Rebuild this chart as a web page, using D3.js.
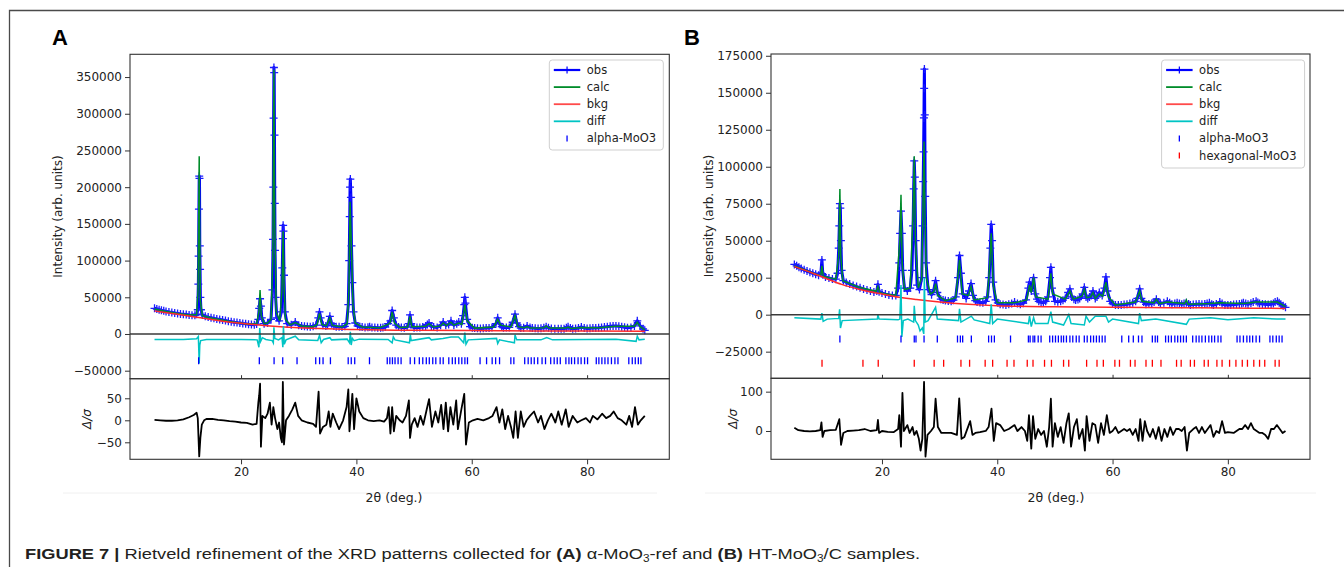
<!DOCTYPE html>
<html>
<head>
<meta charset="utf-8">
<script src="https://cdnjs.cloudflare.com/ajax/libs/d3/7.8.5/d3.min.js"></script>
<style>
body{margin:0;background:#fff;}
svg text{font-family:"DejaVu Sans",sans-serif;fill:#222;}
</style>
</head>
<body>
<div id="fig"></div>
<script>
//2theta axis
var xTicks = [20, 40, 60, 80];

//Panel A : alpha-MoO3-ref  (2theta deg, counts)
var yTicksA = [-50000, 0, 50000, 100000, 150000, 200000, 250000, 300000, 350000];
var resTicksA = [-50, 0, 50];
var obsA = [[5.0,35000],[5.4,34000],[5.8,33000],[6.2,32200],[6.6,31500],[7.0,30800],[7.5,30000],[8.0,29300],[8.5,28600],[9.0,28000],[9.5,27400],[10.0,27000],[10.5,26500],[11.0,26000],[11.5,25700],[12.0,25500],[12.3,27000],[12.5,33000],[12.6,68000],[12.65,106000],[12.7,170000],[12.75,215000],[12.8,212000],[12.85,120000],[12.9,88000],[12.95,50000],[13.05,33000],[13.3,26000],[13.8,24000],[14.3,23000],[14.8,22000],[15.3,21300],[15.8,20500],[16.3,19800],[16.8,19000],[17.3,18300],[17.8,17500],[18.3,16800],[18.8,16100],[19.3,15500],[19.8,14900],[20.3,14300],[20.8,13800],[21.3,13300],[21.8,12900],[22.3,12700],[22.7,13500],[23.0,20000],[23.15,35000],[23.3,48000],[23.45,38000],[23.6,22000],[24.0,14000],[24.6,15000],[25.2,20000],[25.45,60000],[25.55,129000],[25.6,200000],[25.65,294000],[25.7,363000],[25.75,356000],[25.8,271000],[25.85,178000],[25.9,114000],[26.0,50000],[26.2,22000],[26.6,18000],[27.0,30000],[27.15,90000],[27.25,130000],[27.3,148000],[27.35,140000],[27.45,80000],[27.6,30000],[28.0,14000],[28.7,12500],[29.4,16500],[30.0,12000],[30.5,11000],[31.0,10500],[31.5,10200],[32.0,10000],[32.5,10500],[33.0,12000],[33.4,22000],[33.6,30000],[33.8,22000],[34.2,12000],[34.7,11000],[35.0,12000],[35.4,24000],[35.7,14000],[36.1,11000],[36.5,10000],[37.0,9700],[37.5,9500],[38.0,10500],[38.3,14000],[38.6,40000],[38.75,100000],[38.85,160000],[38.9,200000],[38.95,211000],[39.05,186000],[39.15,120000],[39.3,70000],[39.5,30000],[39.8,15000],[40.2,11000],[40.6,10000],[41.0,9500],[41.5,9000],[42.0,9300],[42.3,10000],[42.7,9000],[43.2,8800],[43.7,8600],[44.2,8500],[44.6,8800],[45.0,9500],[45.5,14000],[45.9,18000],[46.2,32000],[46.5,22000],[46.9,12000],[47.3,9500],[47.8,9000],[48.3,8600],[48.8,9500],[49.1,14000],[49.3,26000],[49.5,14000],[50.0,8500],[50.5,8700],[51.0,9000],[51.5,9500],[52.0,11000],[52.3,13000],[52.6,15000],[53.0,11000],[53.4,9500],[54.0,9000],[54.6,12000],[55.05,16500],[55.5,12000],[56.0,13000],[56.4,18000],[56.9,12000],[57.4,14000],[57.75,16500],[58.2,14000],[58.5,25000],[58.7,40000],[58.8,50000],[58.9,42000],[59.2,20000],[59.7,10000],[60.1,8500],[60.5,8000],[61.0,7700],[61.5,7500],[62.0,7700],[62.5,8000],[63.0,8300],[63.5,9000],[64.2,14000],[64.5,22000],[64.8,14000],[65.2,10000],[65.5,8500],[66.0,8700],[66.5,9000],[67.1,16000],[67.5,27000],[67.8,15000],[68.2,10000],[68.5,8000],[69.0,8500],[69.6,11000],[70.1,8800],[70.5,8000],[71.0,7700],[71.5,7500],[72.0,7800],[72.5,8500],[72.9,10000],[73.3,8500],[73.8,7500],[74.4,7200],[75.0,7000],[75.5,7100],[76.0,7200],[76.4,8500],[76.7,10000],[77.1,8000],[77.5,7000],[78.0,7500],[78.5,8200],[79.0,9500],[79.5,8300],[80.0,7500],[80.5,7700],[81.0,8000],[81.5,8200],[82.0,8500],[82.5,9000],[83.0,9500],[83.5,10000],[84.0,10500],[84.5,10800],[85.0,11000],[85.5,10500],[86.0,10000],[86.5,9200],[87.0,8500],[87.6,9000],[88.2,11000],[88.7,18000],[89.2,11000],[89.7,7000],[90.0,5000]];
var calcA = [[5,34000],[7,30500],[9,28000],[11,26000],[12.3,26500],[12.55,60000],[12.7,200000],[12.75,242000],[12.8,170000],[12.95,45000],[13.3,25000],[15,21500],[18,17000],[21,13500],[22.7,13500],[23.1,30000],[23.3,60000],[23.5,25000],[24,14000],[24.6,15000],[25.2,20000],[25.5,100000],[25.7,360000],[25.85,150000],[26.1,30000],[26.7,18000],[27.1,60000],[27.3,140000],[27.45,70000],[27.7,20000],[28.5,12500],[29.4,15500],[30.5,11000],[32.5,10000],[33.2,13000],[33.6,28000],[34.0,13000],[34.8,11000],[35.4,22000],[35.8,12000],[37.5,9500],[38.4,14000],[38.7,60000],[38.9,180000],[39.1,130000],[39.4,40000],[39.8,15000],[41,9500],[44,8500],[45.5,13000],[45.9,16000],[46.2,30000],[46.6,15000],[47.5,9000],[48.9,9500],[49.3,24000],[49.6,10000],[52.0,10500],[52.6,14000],[53.3,9500],[54.6,11000],[55.05,15000],[55.6,11500],[56.4,16000],[56.9,12000],[57.75,15000],[58.3,13000],[58.8,40000],[59.2,18000],[60.5,8000],[63.8,9500],[64.5,20000],[65,12000],[66.8,9500],[67.5,25000],[68,10000],[69.1,8500],[69.6,10000],[70.2,8000],[72.5,8500],[72.9,11000],[73.4,8000],[76.3,8000],[76.7,9500],[77.2,7500],[79,9000],[82,8500],[85,10500],[88.2,10500],[88.7,16000],[89.2,10000],[90,5500]];
var bkgA = [[5,31500],[8,28000],[11,24500],[13,22000],[16,18500],[20,14500],[25,11000],[30,8500],[35,7000],[40,6000],[50,5000],[60,4600],[70,4200],[80,4000],[90,3800]];
var diffA = [[5,-7500],[10,-7500],[12.3,-6500],[12.6,-3500],[12.75,-40000],[12.85,-15000],[13.0,-9000],[14,-7500],[20,-7500],[22.8,-8000],[23.1,-18000],[23.25,8000],[23.4,-10000],[23.7,-5000],[24.3,-7500],[25.4,-9000],[25.6,-12000],[25.7,9000],[25.85,-6000],[26.5,-8000],[27.1,-5000],[27.25,-18000],[27.35,11000],[27.5,-14000],[27.8,-8000],[29.4,-3000],[30,-8000],[33.3,-9000],[33.6,-2000],[33.9,-12000],[34.3,-7500],[35.4,-5000],[35.7,-8000],[38.4,-7000],[38.8,-12000],[38.95,3000],[39.1,-15000],[39.3,-6000],[39.6,-9000],[40.5,-7000],[45.5,-7500],[46.2,-12000],[46.4,-4000],[46.7,-8000],[49.2,-12000],[49.35,-1000],[49.5,-9000],[52.6,-5000],[53,-8000],[55,-6000],[56.4,-4000],[57.7,-4000],[58.6,-12000],[58.8,2000],[59.0,-14000],[59.4,-8000],[64.3,-6000],[64.5,-13000],[64.8,-8000],[67.4,-12000],[67.5,-1000],[67.8,-8000],[72,-8000],[73,-5000],[74,-8000],[80,-7500],[85,-7000],[88.5,-10000],[88.7,-3000],[89,-8000],[90,-7000]];
var resA = [[5,1],[6,0],[7,-1],[8,-1],[9,0],[10,2],[11,7],[11.8,12],[12.3,17],[12.5,5],[12.75,-82],[12.95,-40],[13.2,-10],[13.6,0],[14,3],[15,3],[16,1],[17,0],[18,-2],[19,-3],[20,-5],[21,-6],[22,-10],[22.7,-8],[23.0,40],[23.15,57],[23.3,83],[23.45,-60],[23.7,10],[24.2,5],[24.6,15],[25.0,40],[25.3,-10],[25.6,30],[25.9,5],[26.3,-20],[26.6,-5],[26.9,-40],[27.1,-50],[27.25,87],[27.45,-55],[27.8,0],[28.3,10],[28.9,25],[29.4,40],[29.9,10],[30.5,0],[31.5,-5],[32.5,-8],[33.0,-15],[33.3,40],[33.45,65],[33.7,-30],[34.2,-15],[34.8,-10],[35.2,20],[35.5,-15],[35.9,15],[36.5,-5],[37.0,-20],[37.7,0],[38.3,30],[38.6,70],[38.8,-25],[39.0,10],[39.3,60],[39.6,-20],[40.0,50],[40.5,20],[41.2,5],[42,0],[43,-2],[44,0],[44.8,-3],[45.3,5],[45.6,30],[45.9,-30],[46.2,30],[46.5,-25],[46.9,10],[47.5,0],[48,-5],[48.6,10],[49.1,45],[49.3,-40],[49.6,-10],[50.1,5],[50.6,-15],[51.1,10],[51.6,-10],[52.2,25],[52.6,48],[53.1,-15],[53.7,20],[54.2,-5],[54.7,35],[55.1,-20],[55.5,40],[55.9,-25],[56.3,30],[56.8,-10],[57.3,45],[57.6,-20],[58.2,25],[58.7,60],[59.0,-55],[59.5,-5],[60.2,0],[61,3],[62,0],[63,5],[63.6,10],[64.3,30],[64.8,-5],[65.3,25],[65.8,-20],[66.3,10],[66.8,-15],[67.2,-40],[67.6,20],[68.0,-40],[68.5,20],[69.0,-15],[69.5,0],[70.1,10],[70.8,20],[71.5,-5],[72.0,10],[72.6,-20],[73.2,0],[73.8,15],[74.5,-5],[75.0,20],[75.6,-10],[76.3,25],[76.8,-15],[77.5,10],[78.3,-5],[79.0,0],[79.8,5],[80.5,-5],[81.0,10],[81.8,2],[82.6,15],[83.3,5],[84.0,10],[84.6,20],[85.3,5],[86.0,0],[86.8,-10],[87.3,10],[87.8,-15],[88.3,30],[88.8,-10],[89.3,0],[90,10]];
var alphaTicksA = [12.65,23.17,25.73,27.23,29.71,32.95,33.62,34.22,35.5,38.58,39.11,39.71,42.27,45.35,45.8,46.25,46.7,47.23,47.75,49.33,50.09,50.91,51.51,52.12,52.64,53.24,53.77,54.52,55.05,56.02,56.63,57.15,57.75,58.28,58.81,59.26,61.44,62.57,63.54,64.14,64.82,66.78,67.3,69.18,69.78,70.31,70.84,71.44,72.19,72.79,73.69,74.29,74.82,75.35,76.32,76.85,77.3,77.83,78.43,78.96,79.56,80.08,81.59,82.04,82.56,83.09,83.62,84.22,84.82,85.35,87.23,87.83,88.35,88.88,89.33];

//Panel B : HT-MoO3/C
var yTicksB = [-25000, 0, 25000, 50000, 75000, 100000, 125000, 150000, 175000];
var resTicksB = [0, 100];
var obsB = [[4.8,34000],[5.2,33000],[5.6,32000],[6.0,31200],[6.5,30300],[7.0,29500],[7.5,28700],[8.0,28000],[8.5,27300],[9.0,26700],[9.4,28000],[9.58,37000],[9.75,27000],[10.2,25500],[10.8,24800],[11.4,24200],[12.0,24000],[12.3,28000],[12.5,45000],[12.6,60000],[12.7,75000],[12.78,72000],[12.88,50000],[13.0,30000],[13.3,23000],[13.8,21800],[14.4,20800],[15.0,19800],[15.6,19000],[16.2,18200],[16.8,17400],[17.4,16700],[18.0,16000],[18.6,15300],[19.1,16000],[19.3,20500],[19.5,15500],[20.0,14600],[20.6,13900],[21.2,13300],[21.8,12900],[22.4,13000],[22.8,18000],[23.0,35000],[23.15,55000],[23.3,70000],[23.45,55000],[23.6,30000],[23.9,18000],[24.4,16000],[24.9,18000],[25.2,30000],[25.4,60000],[25.5,85000],[25.6,104000],[25.7,93000],[25.85,50000],[26.1,20000],[26.5,17000],[26.9,25000],[27.05,60000],[27.15,90000],[27.22,110000],[27.28,133000],[27.32,153000],[27.36,166000],[27.42,135000],[27.5,80000],[27.65,35000],[28.0,17000],[28.6,13500],[29.0,17000],[29.3,23000],[29.6,15000],[30.2,10500],[30.6,10000],[31.0,9600],[31.5,9300],[32.0,9000],[32.4,9800],[32.8,12000],[33.2,25000],[33.45,40000],[33.7,28000],[34.0,14000],[34.6,11000],[35.1,16000],[35.45,21000],[35.8,13000],[36.2,9500],[36.5,8600],[37.0,8300],[37.5,8000],[38.0,9000],[38.3,12000],[38.6,25000],[38.8,45000],[38.95,61000],[39.1,50000],[39.3,22000],[39.7,10000],[40.1,8000],[40.5,7000],[41.0,6800],[41.5,6500],[42.0,7000],[42.5,7500],[43.0,8500],[43.5,7500],[44.0,7000],[44.5,7800],[45.0,10000],[45.4,18000],[45.6,22000],[45.9,16000],[46.3,25000],[46.6,14000],[46.9,10500],[47.2,9000],[47.6,8500],[48.0,8000],[48.4,9000],[48.8,12000],[49.15,25000],[49.3,32000],[49.5,18000],[50.0,9000],[50.5,8800],[51.0,9000],[51.4,9800],[51.8,11000],[52.3,15000],[52.6,17500],[52.9,12000],[53.3,10500],[53.6,10000],[54.0,10200],[54.3,11000],[54.8,14000],[55.1,18500],[55.4,12000],[55.7,11000],[56.0,12000],[56.3,13000],[56.6,16000],[57.0,11000],[57.3,12000],[57.7,15000],[58.2,13000],[58.6,18000],[58.85,25500],[59.1,16000],[59.6,9000],[60.0,7500],[60.5,6500],[61.0,6500],[61.5,6500],[62.0,6800],[62.5,7000],[63.0,7500],[63.5,8000],[64.0,9000],[64.3,11000],[64.7,17500],[65.0,11000],[65.4,8500],[65.8,7000],[66.3,7200],[66.8,7500],[67.2,8500],[67.6,10500],[68.0,8500],[68.3,7500],[68.9,8000],[69.5,9000],[69.9,8000],[70.3,7000],[70.8,7500],[71.2,8000],[71.6,7500],[72.0,7000],[72.4,7500],[72.8,8000],[73.2,7200],[73.5,6500],[74.0,6800],[74.5,7000],[75.0,7200],[75.5,7000],[76.0,7200],[76.4,7500],[76.8,8000],[77.2,7000],[77.5,6500],[78.0,7200],[78.6,8500],[79.0,7500],[79.5,6500],[80.0,6500],[80.5,6500],[81.0,6800],[81.5,7000],[82.0,7300],[82.4,7600],[82.7,8000],[83.1,7500],[83.5,7000],[84.0,7800],[84.4,8500],[84.9,9000],[85.2,8200],[85.5,7500],[86.0,7200],[86.5,7000],[87.0,6800],[87.5,7000],[87.9,7500],[88.2,8500],[88.6,9000],[88.9,8000],[89.2,7000],[89.6,6000],[90.0,5000]];
var calcB = [[4.8,33000],[9.0,26700],[9.4,27000],[9.58,33000],[9.8,26000],[12.0,24000],[12.5,40000],[12.7,85000],[12.85,40000],[13.2,23000],[16.0,18500],[19.0,15800],[19.3,19000],[19.6,15000],[20.0,14500],[22.4,13000],[23.1,50000],[23.3,81000],[23.5,35000],[23.9,17000],[24.9,18000],[25.4,70000],[25.6,107000],[25.8,50000],[26.3,18000],[26.9,25000],[27.1,70000],[27.3,117000],[27.45,70000],[27.7,25000],[28.4,14000],[29.0,15500],[29.3,21000],[29.7,13000],[31.0,9500],[32.8,11500],[33.45,37000],[33.9,14000],[35.0,13000],[35.45,19000],[36.0,10000],[38.3,11500],[38.7,35000],[38.95,55000],[39.3,20000],[40.0,8000],[43.0,8000],[45.1,10000],[45.6,20000],[45.9,15000],[46.3,25000],[46.7,12000],[48.8,10500],[49.3,28000],[49.6,14000],[51.8,10500],[52.6,16000],[53.2,10500],[54.7,12500],[55.1,17000],[55.5,11500],[56.2,12000],[56.6,15000],[57.0,11000],[57.7,14000],[58.3,12500],[58.85,22000],[59.3,12000],[60.5,6500],[64.0,8500],[64.7,16000],[65.1,9000],[67.2,8000],[67.6,10500],[68.1,7500],[69.5,8500],[72.5,7500],[72.8,10000],[73.1,7000],[76.8,7500],[78.6,8000],[82.7,7500],[84.9,8500],[88.6,8500],[90.0,5500]];
var bkgB = [[4.8,32500],[8,28000],[10,25000],[13,20500],[16,17200],[20,14000],[23,11800],[26,10200],[30,8500],[35,7000],[40,6000],[50,5300],[60,5000],[70,4700],[80,4500],[90,4200]];
var diffB = [[4.8,-2000],[9.4,-3000],[9.58,1000],[9.8,-4500],[10.5,-3000],[12.5,-2500],[12.65,3700],[12.8,-9000],[13.1,-4000],[19.2,-3000],[19.3,0],[19.5,-3000],[22.8,-3500],[23.1,-3000],[23.3,20000],[23.45,-15000],[23.7,-4000],[24.5,-3000],[25.5,-5000],[25.6,6000],[25.8,-4000],[26.3,-7000],[26.6,-11000],[27.0,-9000],[27.25,-13000],[27.35,25000],[27.5,-5000],[28,-4000],[29.3,5000],[29.6,-3000],[33.3,-4000],[33.45,4000],[33.7,-5000],[35.5,-1000],[36,-3500],[38.7,-6000],[38.95,7000],[39.2,-6000],[40,-3000],[45.4,-6000],[45.6,-1000],[45.9,-8000],[46.3,-2000],[46.6,-6000],[48.8,-6000],[49.3,2000],[49.6,-5000],[51.5,-7000],[52.4,0],[52.8,-6000],[55.1,-7000],[55.4,-1000],[56,-5000],[57,-1000],[58.85,-1000],[59.3,-5000],[60,-3000],[64.5,-6000],[64.7,1000],[65,-4000],[67.5,-3000],[72.8,-6500],[73.3,-3000],[77,-2000],[80,-3500],[84.5,-2000],[88.5,-3000],[90,-3000]];
var resB = [[4.8,8],[5.5,2],[6.5,0],[7.5,-1],[8.5,0],[9.3,2],[9.5,22],[9.7,-15],[10,0],[11,2],[12,3],[12.6,30],[12.9,-35],[13.3,-5],[14,0],[15,1],[16,2],[17,5],[18,0],[19.1,2],[19.3,28],[19.5,-5],[20,0],[21,-2],[22,-3],[22.8,5],[23.0,40],[23.3,-40],[23.55,97],[23.8,0],[24.4,15],[24.8,-5],[25.3,10],[25.6,-10],[26.0,0],[26.4,-20],[26.7,-50],[27.0,-20],[27.3,125],[27.55,-65],[27.9,-10],[28.5,0],[29.0,10],[29.3,82],[29.7,10],[30.3,-5],[31,-5],[32,-5],[33,-10],[33.4,83],[33.8,-20],[34.3,-15],[35.3,25],[35.7,-10],[36.2,-5],[37,-3],[38,0],[38.5,10],[39,57],[39.4,-25],[39.8,20],[40.5,15],[41.2,0],[42,5],[43,15],[43.5,0],[44.2,10],[44.8,0],[45.2,-25],[45.5,40],[45.9,-45],[46.2,38],[46.6,-20],[47.1,5],[47.6,-10],[48.1,0],[48.6,-40],[49.0,10],[49.3,82],[49.6,-40],[50.0,20],[50.5,-15],[51.0,10],[51.5,-30],[52.0,20],[52.4,45],[52.8,-40],[53.3,10],[53.8,30],[54.2,-20],[54.8,5],[55.2,-50],[55.5,38],[56.0,-25],[56.5,20],[57.0,15],[57.5,-30],[58.0,20],[58.5,-10],[59.0,40],[59.5,-5],[60.0,0],[60.5,10],[61.0,-5],[62.0,5],[62.5,0],[63.0,5],[63.5,-10],[64.0,5],[64.5,-25],[64.8,30],[65.2,-25],[65.6,25],[66.0,0],[66.5,-15],[67.0,5],[67.5,-20],[68.0,10],[68.5,-25],[69.0,5],[69.5,-15],[70.0,10],[70.5,-10],[71.0,5],[71.5,5],[72.0,0],[72.5,10],[72.9,-50],[73.3,-5],[74.0,5],[74.5,10],[75.0,-5],[75.5,10],[76.0,-5],[76.5,5],[77.0,15],[77.5,-15],[78.0,0],[78.5,-5],[79.0,25],[79.5,-5],[80.0,-3],[81.0,-5],[82.0,5],[82.5,5],[83.0,15],[83.5,5],[84.0,20],[84.5,5],[85.0,0],[85.5,-5],[86.0,-5],[86.5,-10],[87.0,-20],[87.5,5],[88.0,5],[88.5,15],[89.0,5],[89.5,-5],[90,0]];
var alphaTicksB = [12.7,23.3,25.6,25.9,27.3,29.6,33.1,33.6,34.0,35.5,38.5,39.0,39.5,42.3,45.4,45.7,46.2,46.5,47.1,47.6,49.1,49.6,50.1,50.6,51.1,51.5,52.0,52.6,53.1,53.7,54.2,55.1,55.6,56.2,56.7,57.2,57.7,58.2,58.7,61.6,62.8,63.6,64.5,65.1,66.9,67.4,67.8,69.2,69.7,70.2,70.8,71.3,71.8,72.3,72.8,73.9,74.5,75.0,75.5,76.1,76.7,77.2,77.7,78.3,78.8,81.6,82.1,82.7,83.3,83.8,84.3,84.9,85.5,87.3,87.8,88.4,88.9,89.4];
var hexTicksB = [9.6,16.7,19.35,25.6,29.05,30.7,33.7,35.2,37.9,39.2,41.7,42.9,45.2,46.2,48.2,49.4,51.5,52.4,55.5,57.3,58.4,60.4,61.2,63.1,63.9,65.8,66.9,68.4,71.1,71.9,73.5,74.2,75.9,76.6,78.1,79.0,80.3,81.4,82.5,83.4,84.5,85.5,86.4,88.2,88.9];

var width = 1344,
    height = 567;

var svg = d3.select("#fig").append("svg")
    .attr("width", width)
    .attr("height", height);

//outer frame (top + left edges only)
svg.append("path")
    .attr("d", "M9.5,567V10.5H1344")
    .attr("fill", "none")
    .attr("stroke", "#4a4a4a")
    .attr("stroke-width", 1.3);

var panels = [
  {label: "A", labelX: 52, left: 130, right: 669.3, top: 54.3, mid: 378.7, bottom: 459.3,
   yDomain: [-60900, 381000], yTicks: yTicksA, rDomain: [-88.6, 94.5], rTicks: resTicksA,
   obs: obsA, calc: calcA, bkg: bkgA, diff: diffA, res: resA,
   phases: [{name: "alpha-MoO3", color: "#0000ff", pos: alphaTicksA, y: -36400}],
   legend: {x: 549.3, y: 60, w: 114, h: 90},
   ylabX: 58, rlabX: 87, xlabX: 394, faint: [63, 657]},
  {label: "B", labelX: 684, left: 771, right: 1310, top: 54, mid: 378.3, bottom: 459.3,
   yDomain: [-43000, 176200], yTicks: yTicksB, rDomain: [-72, 134], rTicks: resTicksB,
   obs: obsB, calc: calcB, bkg: bkgB, diff: diffB, res: resB,
   phases: [{name: "alpha-MoO3", color: "#0000ff", pos: alphaTicksB, y: -16400},
            {name: "hexagonal-MoO3", color: "#ff0000", pos: hexTicksB, y: -32900}],
   legend: {x: 1161.6, y: 60, w: 143, h: 108},
   ylabX: 708.5, rlabX: 732.5, xlabX: 1056, faint: [705, 1316]}
];

panels.forEach(drawPanel);

function drawPanel(p) {
  var x = d3.scaleLinear().domain([0.75, 94.25]).range([p.left, p.right]);
  var y = d3.scaleLinear().domain(p.yDomain).range([p.mid, p.top]);
  var r = d3.scaleLinear().domain(p.rDomain).range([p.bottom, p.mid]);

  //faint edge of the pasted image
  svg.append("line")
      .attr("x1", p.faint[0]).attr("x2", p.faint[1])
      .attr("y1", 493).attr("y2", 493)
      .attr("stroke", "#f0f0f0");

  svg.append("text")
      .attr("x", p.labelX).attr("y", 45)
      .style("font-family", "'Liberation Sans',Arial,sans-serif")
      .style("font-weight", "bold")
      .style("font-size", "22px")
      .style("fill", "#000")
      .text(p.label);

  var clip = svg.append("clipPath").attr("id", "clipTop" + p.label);
  clip.append("rect").attr("x", p.left).attr("y", p.top)
      .attr("width", p.right - p.left).attr("height", p.mid - p.top);
  var clip2 = svg.append("clipPath").attr("id", "clipBot" + p.label);
  clip2.append("rect").attr("x", p.left).attr("y", p.mid)
      .attr("width", p.right - p.left).attr("height", p.bottom - p.mid);

  var plot = svg.append("g").attr("clip-path", "url(#clipTop" + p.label + ")");

  var line = d3.line().x(function(d){ return x(d[0]); }).y(function(d){ return y(d[1]); });

  //observed: line + crosses
  plot.append("path").datum(p.obs)
      .attr("d", line)
      .attr("fill", "none").attr("stroke", "#0000ff").attr("stroke-width", 3)
      .attr("stroke-linejoin", "round");
  plot.append("path")
      .attr("d", p.obs.map(function(d){
          var cx = x(d[0]), cy = y(d[1]);
          return "M" + (cx - 4) + "," + cy + "h8M" + cx + "," + (cy - 4) + "v8";
      }).join(""))
      .attr("fill", "none").attr("stroke", "#1a1aff").attr("stroke-width", 1.3);

  plot.append("path").datum(p.calc)
      .attr("d", line)
      .attr("fill", "none").attr("stroke", "#008c2a").attr("stroke-width", 1.5);

  plot.append("path").datum(p.bkg)
      .attr("d", line.curve(d3.curveMonotoneX))
      .attr("fill", "none").attr("stroke", "#ff2a2a").attr("stroke-width", 1.5);
  line.curve(d3.curveLinear);

  plot.append("path").datum(p.diff)
      .attr("d", line)
      .attr("fill", "none").attr("stroke", "#00c4c4").attr("stroke-width", 1.5);

  //zero line
  plot.append("line")
      .attr("x1", p.left).attr("x2", p.right)
      .attr("y1", y(0)).attr("y2", y(0))
      .attr("stroke", "#3a3a3a").attr("stroke-width", 1.5);

  //reflection markers
  p.phases.forEach(function(ph) {
    plot.append("path")
        .attr("d", ph.pos.map(function(t){
            return "M" + x(t) + "," + (y(ph.y) - 3.5) + "v7";
        }).join(""))
        .attr("stroke", ph.color).attr("stroke-width", 1.3).attr("fill", "none");
  });

  //residual
  var rline = d3.line().x(function(d){ return x(d[0]); }).y(function(d){ return r(d[1]); });
  svg.append("g").attr("clip-path", "url(#clipBot" + p.label + ")")
    .append("path").datum(p.res)
      .attr("d", rline)
      .attr("fill", "none").attr("stroke", "#000").attr("stroke-width", 1.8)
      .attr("stroke-linejoin", "round");

  //frames
  [[p.top, p.mid], [p.mid, p.bottom]].forEach(function(b) {
    svg.append("rect")
        .attr("x", p.left).attr("y", b[0])
        .attr("width", p.right - p.left).attr("height", b[1] - b[0])
        .attr("fill", "none").attr("stroke", "#333").attr("stroke-width", 1.1);
  });

  //axes
  var ya = svg.append("g").attr("transform", "translate(" + p.left + ",0)")
      .call(d3.axisLeft(y).tickValues(p.yTicks).tickSize(5).tickPadding(3).tickFormat(d3.format("d")));
  var ra = svg.append("g").attr("transform", "translate(" + p.left + ",0)")
      .call(d3.axisLeft(r).tickValues(p.rTicks).tickSize(5).tickPadding(3).tickFormat(d3.format("d")));
  var xa = svg.append("g").attr("transform", "translate(0," + p.bottom + ")")
      .call(d3.axisBottom(x).tickValues(xTicks).tickSize(5).tickPadding(3));
  var xt = svg.append("g").attr("transform", "translate(0," + p.mid + ")")
      .call(d3.axisTop(x).tickValues(xTicks).tickSize(3.5).tickFormat(""));
  [ya, ra, xa, xt].forEach(function(a) {
    a.select(".domain").remove();
    a.selectAll("line").attr("stroke", "#333");
    a.selectAll("text").style("font-size", "12px").style("font-family", "'DejaVu Sans',sans-serif").style("fill", "#222");
  });

  //axis labels
  svg.append("text")
      .attr("transform", "translate(" + p.ylabX + "," + ((p.top + p.mid) / 2) + ") rotate(-90)")
      .attr("text-anchor", "middle").attr("dy", "0.35em")
      .style("font-size", "12px")
      .text("Intensity (arb. units)");
  svg.append("text")
      .attr("transform", "translate(" + p.rlabX + "," + ((p.mid + p.bottom) / 2) + ") rotate(-90)")
      .attr("text-anchor", "middle").attr("dy", "0.35em")
      .style("font-size", "12px").style("font-style", "italic")
      .text("Δ/σ");
  svg.append("text")
      .attr("x", p.xlabX).attr("y", 502)
      .attr("text-anchor", "middle")
      .style("font-size", "12.5px")
      .text("2θ (deg.)");

  //legend
  var L = p.legend;
  var lg = svg.append("g");
  lg.append("rect")
      .attr("x", L.x).attr("y", L.y).attr("width", L.w).attr("height", L.h)
      .attr("rx", 3)
      .attr("fill", "#fff").attr("fill-opacity", 0.85)
      .attr("stroke", "#cfcfcf");
  var items = [
    {name: "obs", color: "#0000ff", kind: "cross"},
    {name: "calc", color: "#008c2a", kind: "line"},
    {name: "bkg", color: "#ff4a4a", kind: "line"},
    {name: "diff", color: "#00c4c4", kind: "line"}
  ].concat(p.phases.map(function(ph){ return {name: ph.name, color: ph.color, kind: "tick"}; }));
  items.forEach(function(it, i) {
    var cy = L.y + 10 + i * 17.1;
    var x0 = L.x + 4.5, x1 = L.x + 31;
    if (it.kind === "tick") {
      lg.append("line").attr("x1", (x0 + x1) / 2).attr("x2", (x0 + x1) / 2)
          .attr("y1", cy - 3).attr("y2", cy + 3)
          .attr("stroke", it.color).attr("stroke-width", 1.3);
    } else {
      lg.append("line").attr("x1", x0).attr("x2", x1).attr("y1", cy).attr("y2", cy)
          .attr("stroke", it.color).attr("stroke-width", it.kind === "cross" ? 2.2 : 1.8);
      if (it.kind === "cross") {
        lg.append("line").attr("x1", (x0 + x1) / 2).attr("x2", (x0 + x1) / 2)
            .attr("y1", cy - 3.5).attr("y2", cy + 3.5)
            .attr("stroke", it.color).attr("stroke-width", 1.2);
      }
    }
    lg.append("text")
        .attr("x", L.x + 37.5).attr("y", cy).attr("dy", "0.35em")
        .style("font-size", "11.5px")
        .text(it.name);
  });
}

//caption
var cap = svg.append("text")
    .attr("x", 0).attr("y", 0)
    .style("font-family", "'Liberation Sans',Arial,sans-serif")
    .style("font-size", "15.5px")
    .style("fill", "#231f20");
cap.append("tspan").style("font-weight", "bold").text("FIGURE 7 | ");
cap.append("tspan").text("Rietveld refinement of the XRD patterns collected for ");
cap.append("tspan").style("font-weight", "bold").text("(A)");
cap.append("tspan").text(" α-MoO");
cap.append("tspan").attr("dy", 3).style("font-size", "10px").text("3");
cap.append("tspan").attr("dy", -3).text("-ref and ");
cap.append("tspan").style("font-weight", "bold").text("(B)");
cap.append("tspan").text(" HT-MoO");
cap.append("tspan").attr("dy", 3).style("font-size", "10px").text("3");
cap.append("tspan").attr("dy", -3).text("/C samples.");
var capW = cap.node().getComputedTextLength();
cap.attr("transform", "translate(25,559) scale(" + (896 / capW) + ",1)");
</script>
</body>
</html>
